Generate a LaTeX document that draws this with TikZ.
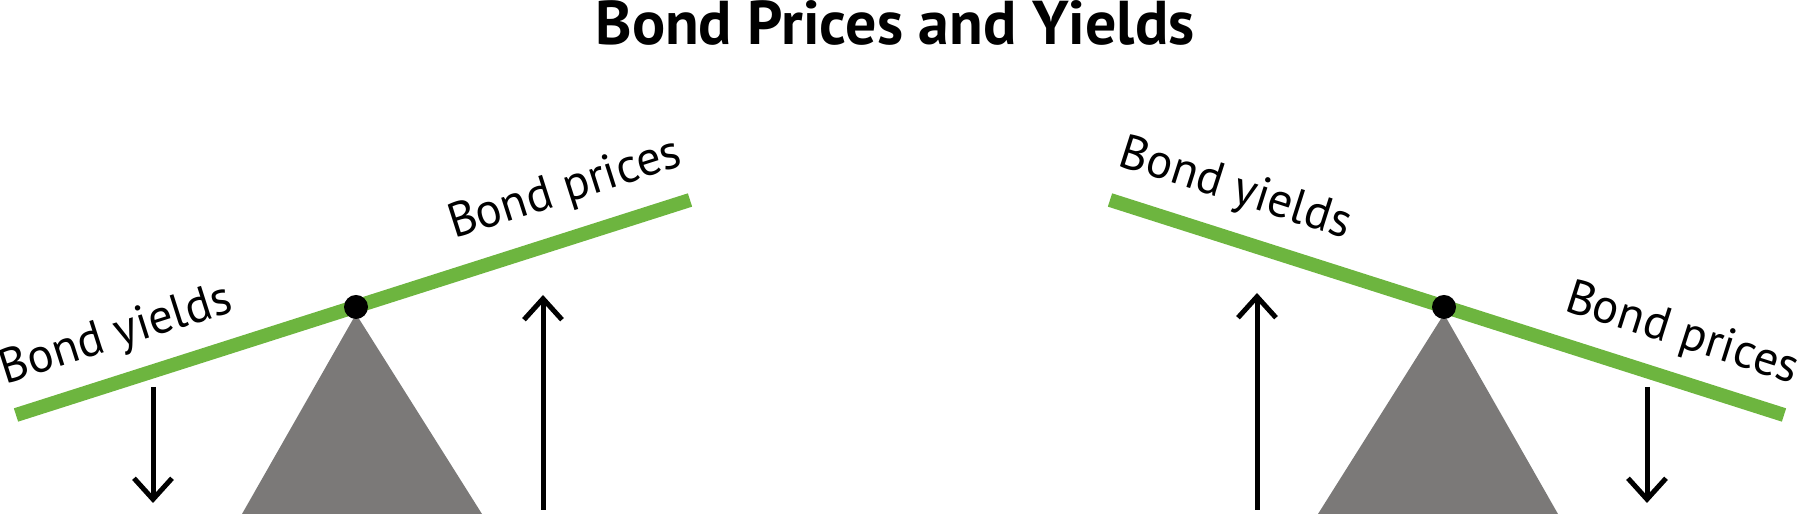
\documentclass[tikz,border=0pt]{standalone}
\usepackage{fontspec}
\setmainfont{PT Sans}
\usepackage{tikz}
\usetikzlibrary{arrows.meta,positioning}
\definecolor{beamgreen}{RGB}{109,181,63}
\definecolor{fulcrumgray}{RGB}{123,121,120}
\begin{document}
\begin{tikzpicture}[beam/.style={draw=beamgreen,line width=0.14cm},
  fulcrum/.style={fill=fulcrumgray},
  pivot/.style={fill=black,circle,inner sep=0pt,minimum size=0.24cm},
  move/.style={line width=0.05cm,-{Straight Barb[length=2.1mm,width=3.8mm]}},
  tag/.style={anchor=base,inner sep=0pt,font=\fontsize{13.8pt}{15pt}\selectfont}]
\useasboundingbox (0,0) rectangle (18,5.14);
\node (title) [anchor=base,inner sep=0pt,font=\bfseries\fontsize{17.6pt}{20pt}\selectfont] at (8.95,4.69) {Bond Prices and Yields};
%
\fill[fulcrum] (2.42,0) -- (3.56,2.0) -- (4.82,0) -- cycle;
\draw[beam] (0.16,0.99) -- (6.90,3.14);
\node (lpivot) [pivot] at (3.56,2.07) {};
\node (lyield) [tag,rotate=17.7] at (1.20,1.665) {Bond yields};
\node (lprice) [tag,rotate=17.7] at (5.69,3.12) {Bond prices};
\draw[move] (1.53,1.27) -- (1.53,0.11);
\draw[move] (5.43,0.04) -- (5.43,2.19);
%
\fill[fulcrum] (13.18,0) -- (14.44,2.0) -- (15.58,0) -- cycle;
\draw[beam] (11.10,3.14) -- (17.84,0.99);
\node (rpivot) [pivot] at (14.44,2.07) {};
\node (ryield) [tag,rotate=-17.7] at (12.31,3.12) {Bond yields};
\node (rprice) [tag,rotate=-17.7] at (16.78,1.67) {Bond prices};
\draw[move] (12.57,0.04) -- (12.57,2.21);
\draw[move] (16.47,1.27) -- (16.47,0.11);
%
\end{tikzpicture}
\end{document}
